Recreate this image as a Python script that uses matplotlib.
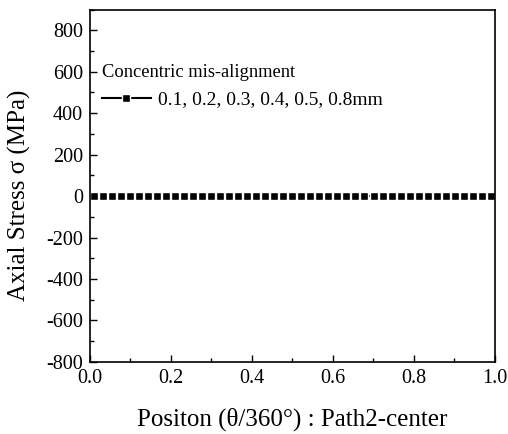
import numpy as np
import matplotlib
matplotlib.use("Agg")
import matplotlib.pyplot as plt
from matplotlib.ticker import MultipleLocator

plt.rcParams['font.family'] = ['Liberation Serif', 'DejaVu Serif']
plt.rcParams['axes.unicode_minus'] = False

# Data: all mis-alignment cases lie on zero
position = np.linspace(0.01, 0.99, 45)
stress = [0.0] * 45
case_label = "0.1, 0.2, 0.3, 0.4, 0.5, 0.8mm"
legend_title = "Concentric mis-alignment"

fig = plt.figure(figsize=(5.08, 4.34), dpi=100)
ax = fig.add_axes([0.177, 0.166, 0.797, 0.812])

ax.plot(position, stress, color='black', linewidth=1.5, marker='s',
        markersize=6, markerfacecolor='black', markeredgecolor='white',
        markeredgewidth=1.0, label=case_label)

ax.set_xlim(0, 1.0)
ax.set_ylim(-800, 900)
ax.xaxis.set_major_locator(MultipleLocator(0.2))
ax.xaxis.set_minor_locator(MultipleLocator(0.1))
ax.yaxis.set_minor_locator(MultipleLocator(100))
ax.set_yticks(np.arange(-800, 801, 200))
ax.tick_params(which='both', direction='in', top=False, right=False, labelsize=14.5)
ax.tick_params(which='major', length=5, width=1, pad=5)
ax.tick_params(which='minor', length=3, width=1)
for s in ax.spines.values():
    s.set_linewidth(1.2)

ax.set_xlabel("Positon (\u03b8/360\u00b0) : Path2-center", fontsize=18)
ax.set_ylabel("Axial Stress \u03c3 (MPa)", fontsize=18)
ax.xaxis.set_label_coords(0.5, -0.13)
ax.yaxis.set_label_coords(-0.145, 0.474)

leg = ax.legend(title=legend_title, loc='upper left', bbox_to_anchor=(0.03, 0.845),
                frameon=False, fontsize=14, title_fontsize=13.3, alignment='left',
                handlelength=2.5, handletextpad=0.4, borderaxespad=0, borderpad=0)

fig.savefig("out.png", dpi=100)
